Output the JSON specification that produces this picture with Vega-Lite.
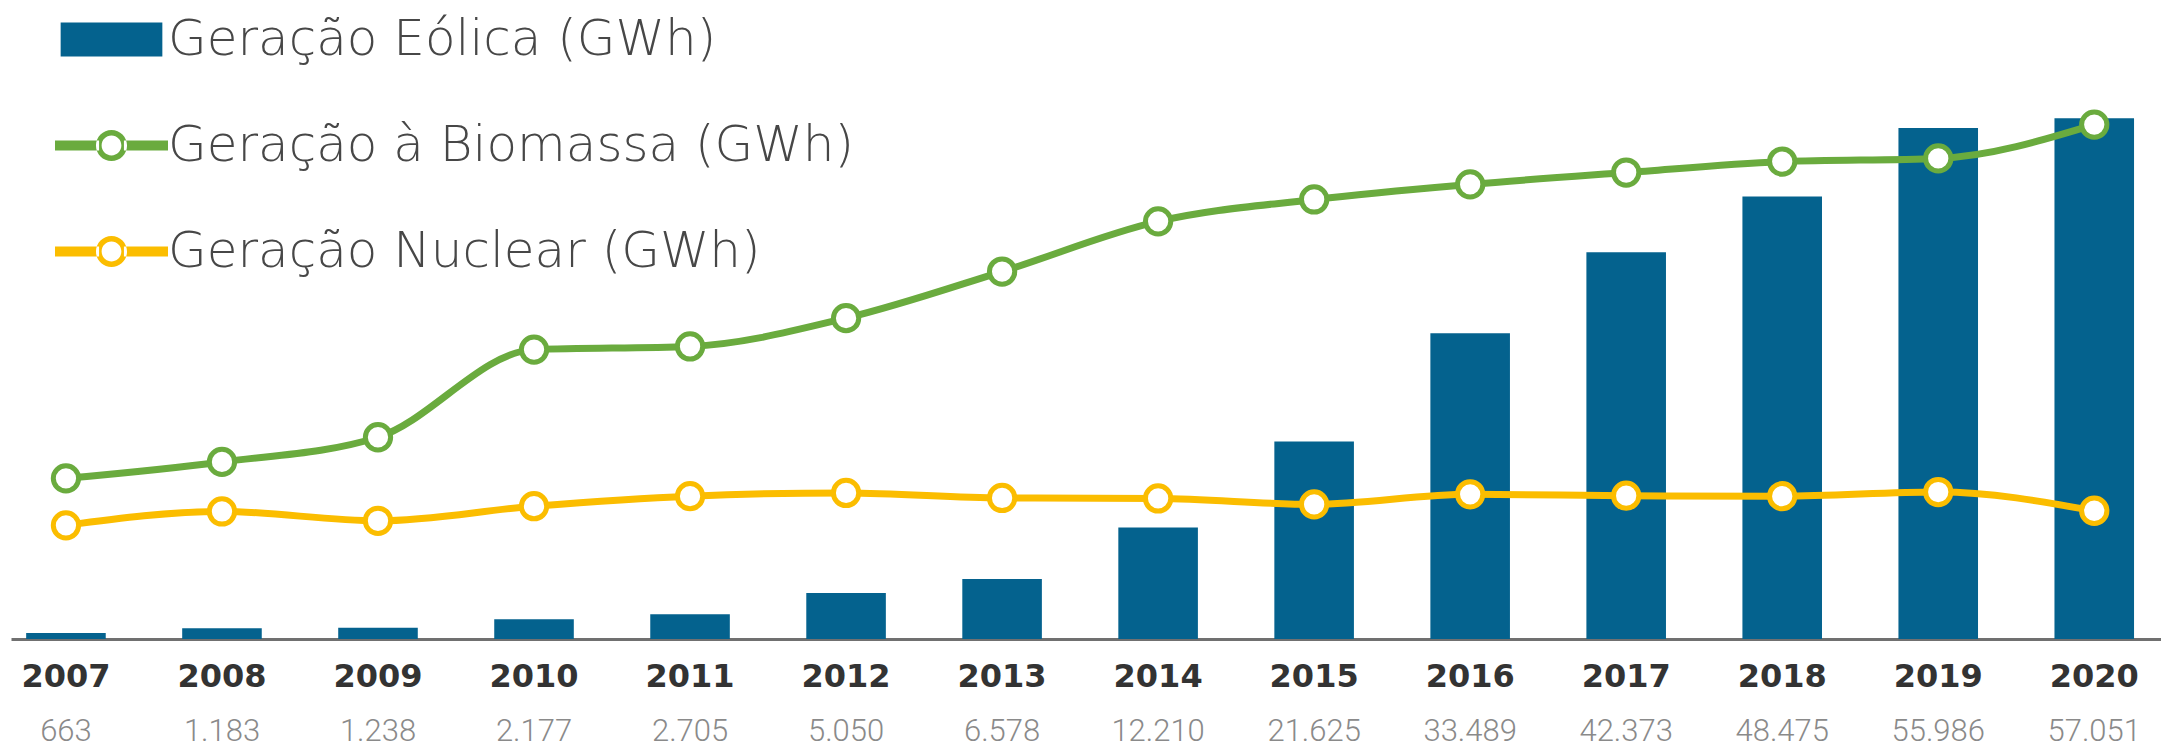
{
  "$schema": "https://vega.github.io/schema/vega-lite/v6.json",
  "autosize": {"type": "none"},
  "width": 2150,
  "height": 639,
  "padding": {"left": 11, "top": 0, "right": 0, "bottom": 111},
  "background": "white",
  "config": {
    "view": {"stroke": null},
    "locale": {"number": {"decimal": ",", "thousands": ".", "grouping": [3], "currency": ["R$", ""]}}
  },
  "data": {
    "values": [
      {"ano": "2007", "eolica": 663, "biomassa": 17600, "nuclear": 12450},
      {"ano": "2008", "eolica": 1183, "biomassa": 19400, "nuclear": 13970},
      {"ano": "2009", "eolica": 1238, "biomassa": 22100, "nuclear": 12950},
      {"ano": "2010", "eolica": 2177, "biomassa": 31700, "nuclear": 14550},
      {"ano": "2011", "eolica": 2705, "biomassa": 32050, "nuclear": 15650},
      {"ano": "2012", "eolica": 5050, "biomassa": 35150, "nuclear": 16000},
      {"ano": "2013", "eolica": 6578, "biomassa": 40250, "nuclear": 15450},
      {"ano": "2014", "eolica": 12210, "biomassa": 45750, "nuclear": 15400},
      {"ano": "2015", "eolica": 21625, "biomassa": 48150, "nuclear": 14750},
      {"ano": "2016", "eolica": 33489, "biomassa": 49800, "nuclear": 15850},
      {"ano": "2017", "eolica": 42373, "biomassa": 51100, "nuclear": 15700},
      {"ano": "2018", "eolica": 48475, "biomassa": 52300, "nuclear": 15650},
      {"ano": "2019", "eolica": 55986, "biomassa": 52650, "nuclear": 16100},
      {"ano": "2020", "eolica": 57051, "biomassa": 56350, "nuclear": 14050}
    ]
  },
  "encoding": {
    "x": {
      "field": "ano", "type": "nominal", "sort": null,
      "scale": {"paddingInner": 0.49, "paddingOuter": 0.135, "align": 0.36},
      "axis": {
        "title": null, "labelAngle": 0, "ticks": false, "labelPadding": 22,
        "labelFont": "DejaVu Sans", "labelFontWeight": "bold", "labelFontSize": 32, "labelColor": "#333333",
        "domainColor": "#707070", "domainWidth": 3, "grid": false
      }
    }
  },
  "layer": [
    {
      "mark": {"type": "bar"},
      "encoding": {
        "y": {"field": "eolica", "type": "quantitative", "scale": {"domain": [0, 70000]}, "axis": null},
        "color": {
          "datum": "Geração Eólica (GWh)",
          "scale": {
            "domain": ["Geração Eólica (GWh)", "Geração à Biomassa (GWh)", "Geração Nuclear (GWh)"],
            "range": ["#04628E", "#6AAB3E", "#FBBD00"]
          },
          "legend": {
            "orient": "none", "legendX": 44, "legendY": -17, "direction": "vertical", "title": null,
            "labelFont": "DejaVu Sans", "labelFontWeight": 200, "labelFontSize": 50, "labelColor": "#474747",
            "labelOffset": 0, "rowPadding": 24, "symbolSize": 12769, "symbolStrokeWidth": 0,
            "labelLimit": 1000,
            "encode": {
              "symbols": {
                "update": {
                  "shape": {"signal": "datum.value === 'Geração Eólica (GWh)' ? 'M-0.9,-0.3L0.9,-0.3L0.9,0.3L-0.9,0.3Z' : 'M-1,-0.09L-0.22,-0.09L-0.22,0.09L-1,0.09ZM0.22,-0.09L1,-0.09L1,0.09L0.22,0.09ZM-0.275,0A0.275,0.275 0 1,0 0.275,0A0.275,0.275 0 1,0 -0.275,0ZM-0.175,0A0.175,0.175 0 1,1 0.175,0A0.175,0.175 0 1,1 -0.175,0Z'"},
                  "strokeWidth": {"value": 0},
                  "opacity": {"value": 1}
                }
              }
            }
          }
        }
      }
    },
    {
      "mark": {"type": "line", "interpolate": "monotone", "strokeWidth": 7},
      "encoding": {
        "y": {"field": "biomassa", "type": "quantitative"},
        "color": {"datum": "Geração à Biomassa (GWh)"}
      }
    },
    {
      "mark": {"type": "point", "filled": false, "fill": "white", "opacity": 1, "strokeWidth": 5, "size": 640},
      "encoding": {
        "y": {"field": "biomassa", "type": "quantitative"},
        "color": {"datum": "Geração à Biomassa (GWh)"}
      }
    },
    {
      "mark": {"type": "line", "interpolate": "monotone", "strokeWidth": 7},
      "encoding": {
        "y": {"field": "nuclear", "type": "quantitative"},
        "color": {"datum": "Geração Nuclear (GWh)"}
      }
    },
    {
      "mark": {"type": "point", "filled": false, "fill": "white", "opacity": 1, "strokeWidth": 5, "size": 640},
      "encoding": {
        "y": {"field": "nuclear", "type": "quantitative"},
        "color": {"datum": "Geração Nuclear (GWh)"}
      }
    },
    {
      "mark": {"type": "text", "dy": 93, "baseline": "middle", "align": "center", "font": "Roboto", "fontWeight": 300, "fontSize": 31, "color": "#8a8a8a"},
      "encoding": {
        "y": {"datum": 0, "type": "quantitative"},
        "text": {"field": "eolica", "type": "quantitative", "format": ",d"}
      }
    }
  ]
}
